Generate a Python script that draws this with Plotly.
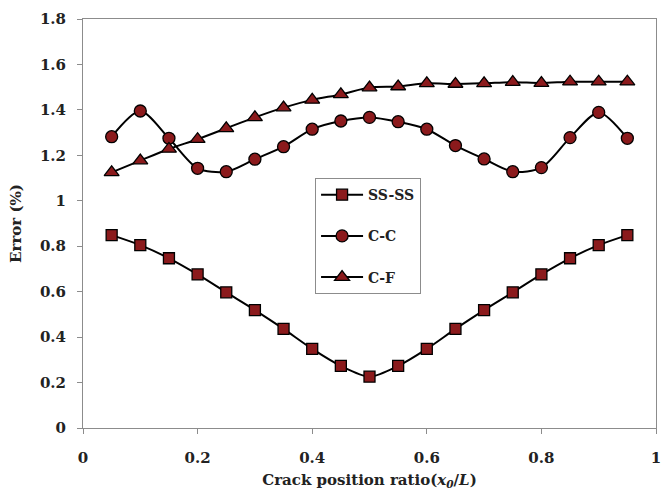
import plotly.graph_objects as go

# Crack position ratio x0/L
positions = [0.05, 0.10, 0.15, 0.20, 0.25, 0.30, 0.35, 0.40, 0.45, 0.50,
             0.55, 0.60, 0.65, 0.70, 0.75, 0.80, 0.85, 0.90, 0.95]

# Error (%) for each boundary condition
err_ss_ss = [0.849, 0.805, 0.747, 0.676, 0.597, 0.519, 0.436, 0.348, 0.273, 0.226,
             0.273, 0.348, 0.436, 0.519, 0.597, 0.676, 0.747, 0.805, 0.849]
err_c_c = [1.282, 1.395, 1.275, 1.143, 1.128, 1.183, 1.238, 1.315, 1.351, 1.367,
           1.348, 1.315, 1.243, 1.184, 1.128, 1.146, 1.278, 1.389, 1.275]
err_c_f = [1.125, 1.177, 1.228, 1.271, 1.319, 1.367, 1.410, 1.444, 1.468, 1.498,
           1.503, 1.517, 1.514, 1.517, 1.522, 1.518, 1.524, 1.524, 1.524]

series_names = ["SS-SS", "C-C", "C-F"]
series_values = [err_ss_ss, err_c_c, err_c_f]
series_symbols = ["square", "circle", "triangle-up"]
series_sizes = [11, 12, 13]

x_ticks = [0, 0.2, 0.4, 0.6, 0.8, 1]
y_ticks = [0, 0.2, 0.4, 0.6, 0.8, 1, 1.2, 1.4, 1.6, 1.8]

FONT = "DejaVu Serif"
MARKER_FILL = "#8b1a1c"

fig = go.Figure()
for name, vals, sym, size in zip(series_names, series_values, series_symbols, series_sizes):
    fig.add_trace(go.Scatter(
        x=positions, y=vals, name=name, mode="lines+markers",
        legendgroup=name,
        line=dict(color="black", width=2, shape="spline", smoothing=0.8),
        marker=dict(symbol=sym, size=size, color=MARKER_FILL,
                    line=dict(color="black", width=1.3)),
    ))

axis_common = dict(
    showgrid=False, zeroline=False, showline=True, linecolor="#8c8c8c", linewidth=1,
    mirror=True, ticks="outside", ticklen=5, tickcolor="#8c8c8c",
    tickfont=dict(family=FONT, size=15, color="#222222", weight="bold"),
)

fig.update_xaxes(range=[0, 1], tickvals=x_ticks, ticklabelstandoff=11,
                 title=dict(text="Crack position ratio(<i>x</i><sub><i>0</i></sub>/<i>L</i>)",
                            font=dict(family=FONT, size=15, color="#222222", weight="bold"),
                            standoff=8),
                 **axis_common)
fig.update_yaxes(range=[0, 1.8], tickvals=y_ticks, ticklabelstandoff=8,
                 title=dict(text="Error (%)",
                            font=dict(family=FONT, size=15, color="#222222", weight="bold"),
                            standoff=14),
                 **axis_common)

fig.update_layout(
    width=667, height=494,
    margin=dict(l=83, r=6, t=19, b=66),
    paper_bgcolor="white", plot_bgcolor="white",
    showlegend=True,
    legend=dict(
        x=0.405, y=0.611, xanchor="left", yanchor="top",
        bgcolor="white", bordercolor="#8c8c8c", borderwidth=1,
        font=dict(family=FONT, size=14, color="#222222", weight="bold"),
        tracegroupgap=20, itemwidth=42,
    ),
)

fig.write_html("out.html")
